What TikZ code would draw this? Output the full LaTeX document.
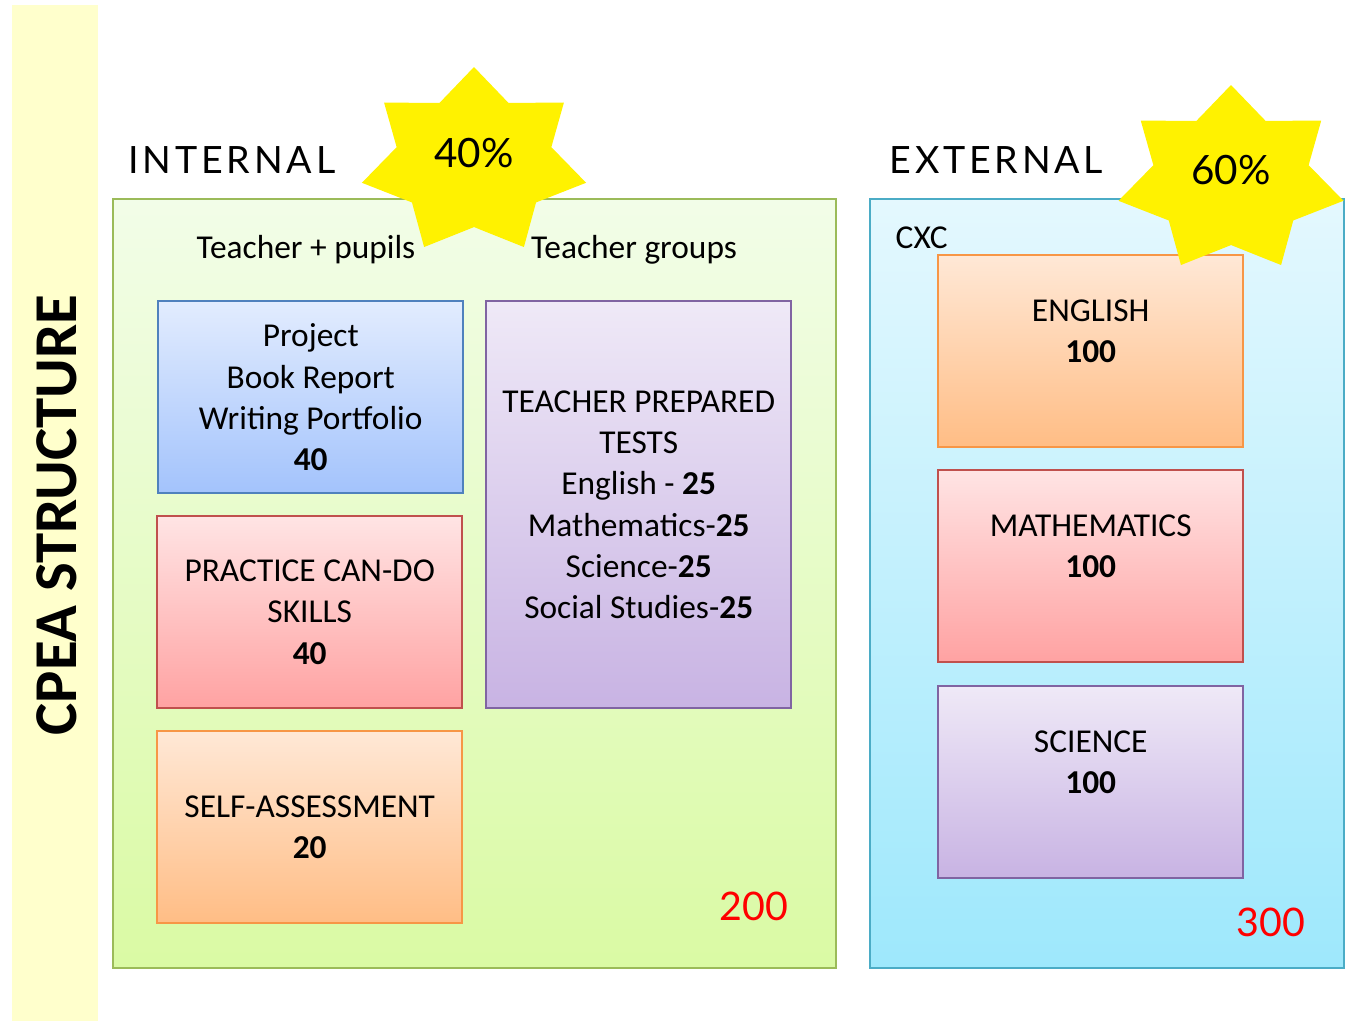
\documentclass[tikz,border=0pt]{standalone}
\usepackage{fontspec}
\setmainfont{Carlito}
\newfontfamily\titlefont[LetterSpace=10]{Lato}
\newfontfamily\numfont{Lato}

\definecolor{bandyellow}{HTML}{FFFFCC}
\definecolor{greenedge}{HTML}{9BBB59}
\definecolor{greentop}{HTML}{F2FDE8}
\definecolor{greenbot}{HTML}{DAFAA4}
\definecolor{cyanedge}{HTML}{4BACC6}
\definecolor{cyantop}{HTML}{E4F8FE}
\definecolor{cyanbot}{HTML}{9EE8FC}
\definecolor{blueedge}{HTML}{4F81BD}
\definecolor{bluetop}{HTML}{E2ECFE}
\definecolor{bluebot}{HTML}{A3C3FC}
\definecolor{rededge}{HTML}{C0504D}
\definecolor{redtop}{HTML}{FFE4E4}
\definecolor{redbot}{HTML}{FFA2A2}
\definecolor{orangeedge}{HTML}{F79646}
\definecolor{orangetop}{HTML}{FFE8D6}
\definecolor{orangebot}{HTML}{FFBD85}
\definecolor{purpleedge}{HTML}{8064A2}
\definecolor{purpletop}{HTML}{EFE9F7}
\definecolor{purplebot}{HTML}{C8B3E3}

\begin{document}
\begin{tikzpicture}[
    every node/.style={inner sep=0pt},
    panel/.style n args={3}{draw=#1, top color=#2, bottom color=#3, line width=0.6pt,
        minimum height=7.69cm, anchor=north west},
    card/.style n args={3}{draw=#1, top color=#2, bottom color=#3, line width=0.7pt,
        minimum width=3.05cm, anchor=north west},
    cardtext/.style={align=center, font=\fontsize{9.5}{11.7}\selectfont},
    heading/.style={font=\titlefont\fontsize{10.7}{12}\selectfont, anchor=base west},
    total/.style={text=red, font=\numfont\fontsize{11.2}{12}\selectfont, anchor=base},
]
    \useasboundingbox (0,0) rectangle (13.48,-10.21);

    % side band with the title
    \fill[bandyellow] (0.12,-0.05) rectangle (0.98,-10.21);
    \node[rotate=90, font=\bfseries\fontsize{17.3}{20}\selectfont] (title) at (0.57,-5.15) {CPEA STRUCTURE};

    % the two panels
    \node[panel={greenedge}{greentop}{greenbot}, minimum width=7.23cm] (internal) at (1.12,-1.98) {};
    \node[panel={cyanedge}{cyantop}{cyanbot}, minimum width=4.74cm] (external) at (8.69,-1.98) {};

    \node[heading] (inthead) at (1.28,-1.73) {INTERNAL};
    \node[heading] (exthead) at (8.89,-1.73) {EXTERNAL};

    % internal part
    \node[cardtext, anchor=base] (pupils) at (3.06,-2.58) {Teacher + pupils};
    \node[cardtext, anchor=base] (groups) at (6.34,-2.58) {Teacher groups};

    \node[card={blueedge}{bluetop}{bluebot}, minimum height=1.92cm] (proj) at (1.57,-3.00) {};
    \node[card={rededge}{redtop}{redbot}, minimum height=1.92cm] (cando) at (1.56,-5.15) {};
    \node[card={orangeedge}{orangetop}{orangebot}, minimum height=1.92cm] (selfass) at (1.56,-7.30) {};
    \node[card={purpleedge}{purpletop}{purplebot}, minimum height=4.07cm] (tests) at (4.85,-3.00) {};

    \node[cardtext] (projtxt) at (proj.center) {Project\\Book Report\\Writing Portfolio\\\textbf{40}};
    \node[cardtext] (candotxt) at (cando.center) {PRACTICE CAN-DO\\SKILLS\\\textbf{40}};
    \node[cardtext] (selftxt) at (selfass.center) {SELF-ASSESSMENT\\\textbf{20}};
    \node[cardtext] (teststxt) at (tests.center) {TEACHER PREPARED\\TESTS\\English - \textbf{25}\\
        Mathematics-\textbf{25}\\Science-\textbf{25}\\Social Studies-\textbf{25}};

    \node[total] (inttotal) at (7.54,-9.20) {200};

    % external part
    \node[cardtext, anchor=base west] (cxc) at (8.95,-2.48) {CXC};

    \node[card={orangeedge}{orangetop}{orangebot}, minimum height=1.92cm] (eng) at (9.37,-2.54) {};
    \node[card={rededge}{redtop}{redbot}, minimum height=1.92cm] (math) at (9.37,-4.69) {};
    \node[card={purpleedge}{purpletop}{purplebot}, minimum height=1.92cm] (sci) at (9.37,-6.85) {};

    \node[cardtext] (engtxt) at ([yshift=0.2cm]eng.center) {ENGLISH\\\textbf{100}};
    \node[cardtext] (mathtxt) at ([yshift=0.2cm]math.center) {MATHEMATICS\\\textbf{100}};
    \node[cardtext] (scitxt) at ([yshift=0.2cm]sci.center) {SCIENCE\\\textbf{100}};

    \node[total] (exttotal) at (12.71,-9.36) {300};

    % seven point stars
    \begin{scope}[shift={(4.74,-1.617)}, xscale=1.15, yscale=0.947]
        \fill[yellow] (90:1) \foreach \k in {1,...,7} {-- (90+\k*51.43-25.71:0.69) -- (90+\k*51.43:1)} -- cycle;
    \end{scope}
    \begin{scope}[shift={(12.31,-1.797)}, xscale=1.154, yscale=0.947]
        \fill[yellow] (90:1) \foreach \k in {1,...,7} {-- (90+\k*51.43-25.71:0.69) -- (90+\k*51.43:1)} -- cycle;
    \end{scope}
    \node[font=\numfont\fontsize{11.5}{12}\selectfont, anchor=base] (pct40) at (4.74,-1.67) {40\%};
    \node[font=\numfont\fontsize{11.5}{12}\selectfont, anchor=base] (pct60) at (12.31,-1.84) {60\%};
\end{tikzpicture}
\end{document}
